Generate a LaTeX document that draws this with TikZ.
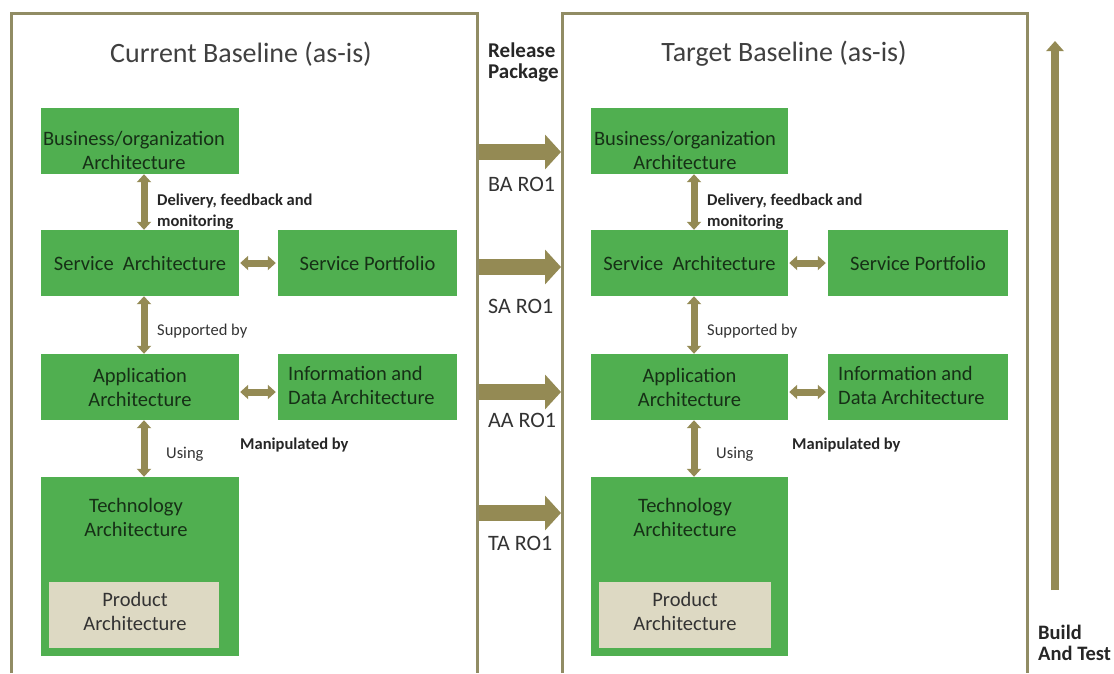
\documentclass[tikz,border=0pt]{standalone}
\usepackage{fontspec}
\setmainfont{Carlito}
\usetikzlibrary{arrows.meta}
\definecolor{boxgreen}{RGB}{80,175,80}
\definecolor{boxtext}{RGB}{22,48,22}
\definecolor{olive}{RGB}{148,138,84}
\definecolor{beige}{RGB}{221,217,195}
\definecolor{framecol}{RGB}{145,140,100}
\definecolor{titlecol}{RGB}{64,64,64}
\begin{document}
\begin{tikzpicture}[x=1pt,y=-1pt,
  box/.style={fill=boxgreen, text=boxtext, align=center, inner sep=0pt,
    font=\fontsize{20.5}{24}\selectfont},
  boxtxt/.style={text=boxtext, inner sep=0pt, font=\fontsize{20.5}{24}\selectfont},
  prod/.style={fill=beige, text=black!80, align=center, inner sep=0pt,
    font=\fontsize{20.5}{24}\selectfont},
  frameline/.style={draw=framecol, line width=3pt},
  titletext/.style={text=titlecol, font=\fontsize{28}{32}\selectfont},
  lblbold/.style={text=black!85, align=left, inner sep=0pt, font=\bfseries\fontsize{16.5}{21}\selectfont},
  lblreg/.style={text=black!80, align=left, inner sep=0pt, font=\fontsize{16.5}{21}\selectfont},
  sidelbl/.style={text=black!80, align=left, inner sep=0pt, font=\fontsize{22}{24}\selectfont},
  dbl/.style={draw=olive, line width=7pt, {Triangle[length=8pt,width=14pt]}-{Triangle[length=8pt,width=14pt]}},
  bigarrow/.style={draw=olive, line width=16pt, -{Triangle[length=16pt,width=34pt]}},
  uparrow/.style={draw=olive, line width=8.5pt, -{Triangle[length=10pt,width=17pt]}}
]
\useasboundingbox (0,0) rectangle (1114,673);
\fill[white] (0,0) rectangle (1114,673);

% frames
\draw[frameline] (11,673) -- (11,13) -- (477,13) -- (477,673);
\draw[frameline] (562,673) -- (562,13) -- (1027,13) -- (1027,673);

% titles
\node[titletext] (t1) at (241,54) {Current Baseline (as-is)};
\node[titletext] (t2) at (784,54) {Target Baseline (as-is)};

% left column
\node[box, minimum width=198pt, minimum height=66pt] (ba1) at (140,141) {};
\node[boxtxt, align=center] (bt1) at (134,150) {Business/organization\\Architecture};
\node[box, minimum width=198pt, minimum height=66pt] (sa1) at (140,263) {Service\ \ Architecture};
\node[box, minimum width=179pt, minimum height=66pt] (sp1) at (367.5,263) {Service Portfolio};
\node[box, minimum width=198pt, minimum height=66pt] (aa1) at (140,387) {Application\\Architecture};
\node[box, minimum width=179pt, minimum height=66pt] (ia1) at (367.5,387) {};
\node[boxtxt, align=left, anchor=west] (it1) at (288,385) {Information and\\Data Architecture};
\node[box, minimum width=198pt, minimum height=179pt] (ta1) at (140,566.5) {};
\node[boxtxt, align=center] (tt1) at (136,517) {Technology\\Architecture};
\node[prod, minimum width=170pt, minimum height=66pt] (pa1) at (134,615) {};
\node[boxtxt, align=center, text=black!80] (pt1) at (135,611) {Product\\Architecture};

\draw[dbl] ([xshift=4pt]ba1.south) -- ([xshift=4pt]sa1.north);
\draw[dbl] ([xshift=4pt]sa1.south) -- ([xshift=4pt]aa1.north);
\draw[dbl] ([xshift=4pt]aa1.south) -- ([xshift=4pt]ta1.north);
\draw[dbl] ([xshift=1pt]sa1.east) -- ([xshift=-2pt]sp1.west);
\draw[dbl] ([xshift=1pt,yshift=-5pt]aa1.east) -- ([xshift=-2pt,yshift=-5pt]ia1.west);

\node[lblbold, anchor=west] (d1) at (157,211.5) {Delivery, feedback and\\monitoring};
\node[lblreg, anchor=west] (s1) at (157,331) {Supported by};
\node[lblreg, anchor=west] (u1) at (166,454) {Using};
\node[lblbold, anchor=west] (m1) at (240,445) {Manipulated by};

% right column
\node[box, minimum width=197pt, minimum height=66pt] (ba2) at (689.5,141) {};
\node[boxtxt, align=center] (bt2) at (685,150) {Business/organization\\Architecture};
\node[box, minimum width=197pt, minimum height=66pt] (sa2) at (689.5,263) {Service\ \ Architecture};
\node[box, minimum width=180pt, minimum height=66pt] (sp2) at (918,263) {Service Portfolio};
\node[box, minimum width=197pt, minimum height=66pt] (aa2) at (689.5,387) {Application\\Architecture};
\node[box, minimum width=180pt, minimum height=66pt] (ia2) at (918,387) {};
\node[boxtxt, align=left, anchor=west] (it2) at (838,385) {Information and\\Data Architecture};
\node[box, minimum width=197pt, minimum height=179pt] (ta2) at (689.5,566.5) {};
\node[boxtxt, align=center] (tt2) at (685,517) {Technology\\Architecture};
\node[prod, minimum width=172pt, minimum height=66pt] (pa2) at (685,615) {};
\node[boxtxt, align=center, text=black!80] (pt2) at (685,611) {Product\\Architecture};

\draw[dbl] ([xshift=4.5pt]ba2.south) -- ([xshift=4.5pt]sa2.north);
\draw[dbl] ([xshift=4.5pt]sa2.south) -- ([xshift=4.5pt]aa2.north);
\draw[dbl] ([xshift=4.5pt]aa2.south) -- ([xshift=4.5pt]ta2.north);
\draw[dbl] ([xshift=1pt]sa2.east) -- ([xshift=-2pt]sp2.west);
\draw[dbl] ([xshift=1pt,yshift=-5pt]aa2.east) -- ([xshift=-2pt,yshift=-5pt]ia2.west);

\node[lblbold, anchor=west] (d2) at (707,211.5) {Delivery, feedback and\\monitoring};
\node[lblreg, anchor=west] (s2) at (707,331) {Supported by};
\node[lblreg, anchor=west] (u2) at (716,454) {Using};
\node[lblbold, anchor=west] (m2) at (792,445) {Manipulated by};

% release package arrows
\node[lblbold, anchor=west, font=\bfseries\fontsize{21}{21}\selectfont] (rel) at (488,62) {Release\\Package};
\coordinate (a1s) at (479,152); \coordinate (a1e) at (561,152);
\coordinate (a2s) at (479,267); \coordinate (a2e) at (561,267);
\coordinate (a3s) at (479,392); \coordinate (a3e) at (561,392);
\coordinate (a4s) at (479,513); \coordinate (a4e) at (561,513);
\draw[bigarrow] (a1s) -- (a1e);
\draw[bigarrow] (a2s) -- (a2e);
\draw[bigarrow] (a3s) -- (a3e);
\draw[bigarrow] (a4s) -- (a4e);
\node[sidelbl, anchor=west] (r1) at (488,184) {BA RO1};
\node[sidelbl, anchor=west] (r2) at (488,306) {SA RO1};
\node[sidelbl, anchor=west] (r3) at (488,420) {AA RO1};
\node[sidelbl, anchor=west] (r4) at (488,543) {TA RO1};

% build and test
\coordinate (bs) at (1055,590); \coordinate (be) at (1055,41);
\draw[uparrow] (bs) -- (be);
\node[lblbold, anchor=west, font=\bfseries\fontsize{20.5}{21}\selectfont] (bat) at (1038,642.5) {Build\\And Test};
\end{tikzpicture}
\end{document}
